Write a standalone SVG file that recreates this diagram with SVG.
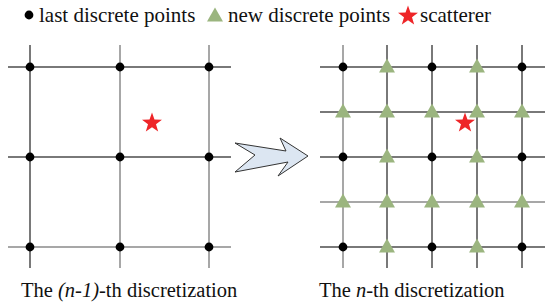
<svg xmlns="http://www.w3.org/2000/svg" width="550" height="304" viewBox="0 0 550 304">
<style>
.g line{stroke:#4d4d4d;stroke-width:1.5}
.g line.l{stroke:#8a8a8a}
.dot{fill:#000}
.tri{fill:#9bb57f}
.star{fill:#ee2528}
.t{font-family:"Liberation Serif","Times New Roman",serif;font-size:21px;fill:#111}
.c{font-size:20.5px}
</style>
<defs>
<circle id="d" r="4.4" class="dot"/>
<polygon id="tr" points="0,-8.5 8,5.5 -8,5.5" class="tri"/>
<polygon id="st" class="star" points="0,-10.5 2.47,-3.4 9.99,-3.24 3.99,1.3 6.17,8.49 0,4.2 -6.17,8.49 -3.99,1.3 -9.99,-3.24 -2.47,-3.4"/>
</defs>
<g id="legend">
<use href="#d" x="29" y="15"/>
<text class="t" x="39" y="22">last discrete points</text>
<use href="#tr" x="215" y="16"/>
<text class="t" x="228" y="22">new discrete points</text>
<use href="#st" x="408" y="16"/>
<text class="t" x="420" y="22">scatterer</text>
</g>
<g id="grid-left" class="g">
<line x1="8" y1="67" x2="231" y2="67"/>
<line x1="8" y1="157" x2="231" y2="157"/>
<line x1="8" y1="247" x2="231" y2="247" class="l"/>
<line x1="30" y1="45" x2="30" y2="268"/>
<line x1="120" y1="45" x2="120" y2="268" class="l"/>
<line x1="209" y1="45" x2="209" y2="268" class="l"/>
</g>
<g id="points-left">
<use href="#d" x="30" y="67"/><use href="#d" x="120" y="67"/><use href="#d" x="209" y="67"/>
<use href="#d" x="30" y="157"/><use href="#d" x="120" y="157"/><use href="#d" x="209" y="157"/>
<use href="#d" x="30" y="247"/><use href="#d" x="120" y="247"/><use href="#d" x="209" y="247"/>
<use href="#st" x="152" y="123"/>
</g>
<g id="arrow">
<polygon points="235,143 286,151 280,138 308,156 278,176 288,162 235,172 255,155" fill="#dce6f2" stroke="#333" stroke-width="1"/>
</g>
<g id="grid-right" class="g">
<line x1="320" y1="67" x2="545" y2="67"/>
<line x1="320" y1="112" x2="545" y2="112"/>
<line x1="320" y1="157" x2="545" y2="157"/>
<line x1="320" y1="202" x2="545" y2="202" class="l"/>
<line x1="320" y1="247" x2="545" y2="247"/>
<line x1="343" y1="45" x2="343" y2="268" class="l"/>
<line x1="387" y1="45" x2="387" y2="268"/>
<line x1="432" y1="45" x2="432" y2="268"/>
<line x1="477" y1="45" x2="477" y2="268"/>
<line x1="522" y1="45" x2="522" y2="268"/>
</g>
<g id="points-right">
<use href="#d" x="343" y="67"/><use href="#tr" x="387" y="67"/><use href="#d" x="432" y="67"/><use href="#tr" x="477" y="67"/><use href="#d" x="522" y="67"/>
<use href="#tr" x="343" y="112"/><use href="#tr" x="387" y="112"/><use href="#tr" x="432" y="112"/><use href="#tr" x="477" y="112"/><use href="#tr" x="522" y="112"/>
<use href="#d" x="343" y="157"/><use href="#tr" x="387" y="157"/><use href="#d" x="432" y="157"/><use href="#tr" x="477" y="157"/><use href="#d" x="522" y="157"/>
<use href="#tr" x="343" y="202"/><use href="#tr" x="387" y="202"/><use href="#tr" x="432" y="202"/><use href="#tr" x="477" y="202"/><use href="#tr" x="522" y="202"/>
<use href="#d" x="343" y="247"/><use href="#tr" x="387" y="247"/><use href="#d" x="432" y="247"/><use href="#tr" x="477" y="247"/><use href="#d" x="522" y="247"/>
<use href="#st" x="465" y="123"/>
</g>
<g id="captions">
<text class="t c" x="21" y="297">The <tspan font-style="italic">(n-1)</tspan>-th discretization</text>
<text class="t c" x="319" y="297">The <tspan font-style="italic">n</tspan>-th discretization</text>
</g>
</svg>
